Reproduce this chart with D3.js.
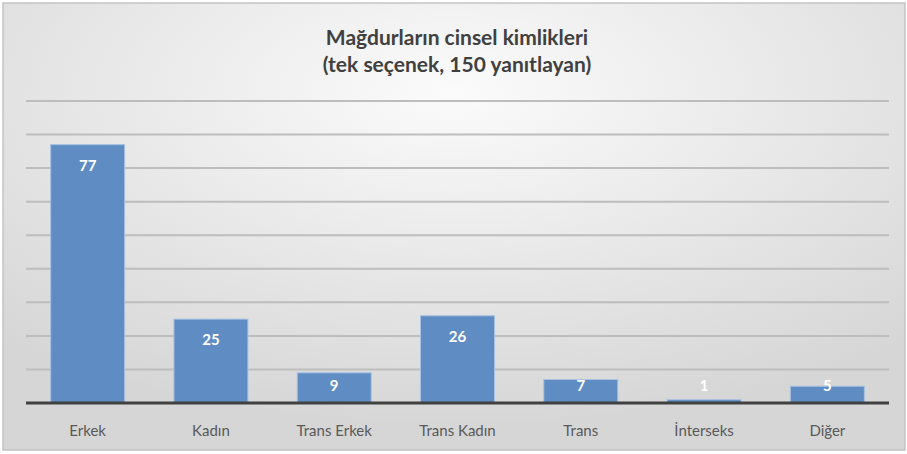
<!DOCTYPE html>
<html><head><meta charset="utf-8">
<script src="https://cdn.jsdelivr.net/npm/d3@7"></script>
<style>html,body{margin:0;padding:0;background:#fff;}svg{display:block;}</style>
</head><body>
<script>
const categories = ["Erkek", "Kadın", "Trans Erkek", "Trans Kadın", "Trans", "İnterseks", "Diğer"];
const values = [77, 25, 9, 26, 7, 1, 5];
const titleLines = ["Mağdurların cinsel kimlikleri", "(tek seçenek, 150 yanıtlayan)"];
const yTicks = [10, 20, 30, 40, 50, 60, 70, 80, 90];

(function () {
const W = 907, H = 454;
const svg = d3.select("body").append("svg").attr("width", W).attr("height", H);
const defs = svg.append("defs");
const g = defs.append("radialGradient").attr("id", "bg").attr("cx", "50%").attr("cy", "20%").attr("r", "75%");
g.append("stop").attr("offset", "0%").attr("stop-color", "#fbfbfb");
g.append("stop").attr("offset", "100%").attr("stop-color", "#d6d6d6");

svg.append("rect").attr("x", 3).attr("y", 3).attr("width", W - 5).attr("height", H - 7)
  .attr("fill", "url(#bg)").attr("stroke", "#c4c4c4").attr("stroke-width", 1.5);

const pL = 26, pR = 889, pT = 101, pB = 403;
const x = d3.scaleBand().domain(categories).range([pL, pR]).paddingInner(0.4).paddingOuter(0.2);
const y = d3.scaleLinear().domain([0, 90]).range([pB, pT]);

// gridlines
svg.append("g").selectAll("line").data(yTicks).join("line")
  .attr("x1", pL).attr("x2", pR)
  .attr("y1", d => y(d)).attr("y2", d => y(d))
  .attr("stroke", "#bdbdbd").attr("stroke-width", 2);

// bars
svg.append("g").selectAll("rect").data(values).join("rect")
  .attr("x", (d, i) => x(categories[i]))
  .attr("y", d => y(d))
  .attr("width", x.bandwidth())
  .attr("height", d => pB - y(d))
  .attr("fill", "#5f8cc3")
  .attr("stroke", "#a9c1e2").attr("stroke-width", 1);

// axis baseline
const xAxis = d3.axisBottom(x).tickSize(0).tickPadding(22);
const ax = svg.append("g").attr("transform", `translate(0,${pB})`).call(xAxis);
ax.select(".domain").attr("stroke", "#404040").attr("stroke-width", 3).attr("d", `M${pL},0H${pR}`);
ax.selectAll("text").attr("font-family", "Lato, 'Open Sans', sans-serif").attr("font-size", 15)
  .attr("fill", "#595959");

// data labels
svg.append("g").selectAll("text").data(values).join("text")
  .attr("x", (d, i) => x(categories[i]) + x.bandwidth() / 2)
  .attr("y", d => Math.min(y(d) + 21, 386) + 5)
  .attr("text-anchor", "middle")
  .attr("font-family", "Lato, 'Open Sans', sans-serif").attr("font-weight", "bold").attr("font-size", 15)
  .attr("fill", "#ffffff")
  .text(d => d);

// title
svg.append("g").selectAll("text").data(titleLines).join("text")
  .attr("x", 457).attr("y", (d, i) => 45 + i * 26.5)
  .attr("text-anchor", "middle")
  .attr("font-family", "Lato, 'Open Sans', sans-serif").attr("font-weight", "bold").attr("font-size", 21)
  .attr("fill", "#404040")
  .text(d => d);
})();
</script>
</body></html>
